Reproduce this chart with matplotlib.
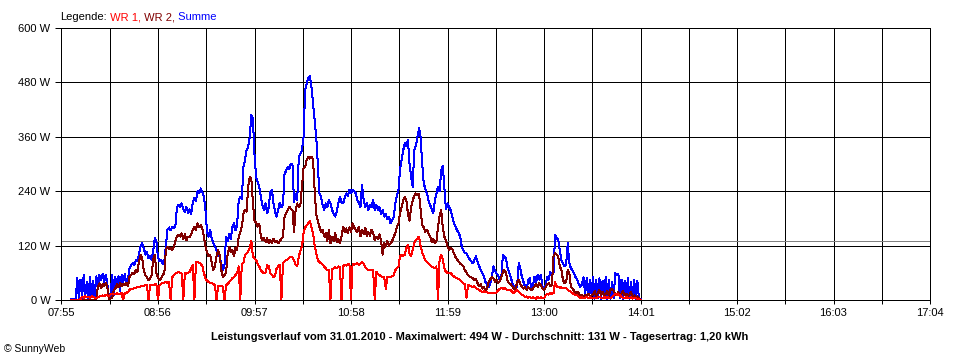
import numpy as np
import matplotlib
matplotlib.use("Agg")
import matplotlib.pyplot as plt

# ---------------- data ----------------
x_tick_labels = ['07:55', '08:56', '09:57', '10:58', '11:59',
                 '13:00', '14:01', '15:02', '16:03', '17:04']
y_ticks = [0, 120, 240, 360, 480, 600]
y_tick_labels = ['0 W', '120 W', '240 W', '360 W', '480 W', '600 W']

series_start = '08:01'   # one value per minute from here
average_w = 131

wr1 = [0, 0, 0, 0, 0, 0, 2,
       7, 5, 8, 6, 7, 5, 8, 7,
       5, 4, 6, 8,
       9, 10, 9, 11, 10, 9,
       12, 13, 14, 13, 15, 14, 13, 15, 0, 16, 15,
       18, 22, 25, 24, 27, 26, 29, 28,
       30, 32, 31, 33, 33, 0, 32, 34, 33, 35, 34, 0, 33,
       36, 37, 38, 40, 38, 39,
       0,
       50, 55, 58, 60, 62, 60, 58,
       0,
       59, 58, 60, 62,
       70, 78, 0, 83, 85, 82, 80, 75,
       60, 48, 42, 40, 38,
       37, 35, 33, 0, 32, 30, 31, 29,
       0,
       32, 35, 40, 44, 48, 51, 55, 60,
       74, 0, 80, 81,
       100, 103, 107,
       115, 130,
       96, 92, 88,
       80, 74, 66,
       62, 59, 60,
       77, 75,
       59, 55, 51, 53,
       70, 74, 78, 0, 81,
       85, 88, 90, 93, 96, 94,
       88, 78, 74,
       96, 108, 118,
       147, 160, 165, 169,
       175,
       160, 147, 120, 103,
       88, 84, 81,
       78, 74, 70, 66,
       66, 0, 68, 70, 72, 70, 74, 72,
       0,
       75, 77, 76, 78, 80, 0, 79, 78, 80, 81, 78, 80,
       83, 80,
       72, 68, 66, 67, 66, 65,
       0,
       62, 58, 55, 52, 51, 50,
       25,
       51, 50, 51, 52, 55,
       66, 70, 74,
       96, 99, 97, 100,
       115, 121,
       103, 96, 110,
       125, 132, 136, 140,
       118, 105, 96,
       88, 84, 80, 77, 74, 72,
       70, 74,
       0,
       90, 99,
       90, 70,
       62, 60, 59, 60,
       55, 52, 50, 48, 46, 44,
       40, 37, 35, 5, 33, 32, 30, 29, 30,
       26, 24, 22, 20, 18, 19, 18,
       17, 16, 15, 15, 16, 15, 17,
       22, 24, 26, 25, 26, 24, 22, 23,
       22, 18, 15, 20, 22, 18, 15,
       12, 10, 7, 8,
       5, 7, 4, 6, 5, 3, 7, 4, 6, 5, 4,
       11, 13, 12, 15, 14, 15,
       40,
       30, 29, 27, 28, 26, 27, 26,
       22, 20, 18, 15, 13, 11, 10,
       7, 5, 6, 4, 5, 7, 4, 6, 5, 4,
       5, 4, 6, 7, 5, 4, 6, 5, 7, 4, 5, 6,
       10, 13, 12, 13, 10,
       6, 5, 4, 6, 5, 4, 6, 3, 5, 4, 3, 2, 0]

wr2 = [0, 0, 0, 0, 0, 0, 0, 0, 0, 0, 0, 0, 0, 0, 0, 0, 0,
       30, 37, 26, 35, 30, 37, 28,
       2, 3,
       5, 20, 25,
       35, 28, 38, 30, 36, 32, 38,
       30,
       51, 55, 60, 58, 66, 62,
       85, 99, 92,
       66, 55, 50, 44, 48, 55,
       90, 99,
       59, 50, 44, 48, 55, 60,
       110, 118, 112, 115, 110, 118,
       130, 140, 143, 140, 147, 135, 145, 132, 140, 138,
       145, 155, 162, 154, 169, 160, 165, 158,
       140,
       118, 105, 96, 100,
       81, 66, 75,
       96, 110, 100,
       66, 51, 55, 60,
       100, 118, 105, 110, 96, 115, 110,
       140, 150, 162,
       191, 199, 195,
       250, 272, 268,
       213, 176,
       170, 162, 168,
       140, 132, 136,
       128, 136, 125, 132, 126, 135, 128, 130, 125,
       130, 135, 140,
       184, 192, 199,
       206, 200, 199,
       150, 200, 213, 205,
       210, 250, 290,
       294, 309, 316, 312, 316, 309,
       243, 190, 176,
       162, 150, 155, 140, 148,
       130, 154, 125, 140, 130, 148, 128, 135, 125, 140,
       162, 150, 158, 147, 160, 150,
       169, 160, 154,
       150, 162, 140, 155, 145, 160, 140, 150, 142, 155,
       147, 132, 140, 135, 145,
       130, 100, 125, 118, 130, 120,
       125, 130, 140, 147,
       160, 169, 191, 205, 220, 228,
       220, 190, 175,
       205, 220, 230, 235, 232,
       235,
       199, 165,
       160, 150, 155, 147,
       140, 128, 135, 125, 130,
       162, 185, 199,
       160, 140, 132,
       118, 110, 115, 112,
       103, 95, 90, 85, 80, 78, 74,
       66, 60, 55, 52, 50, 48, 44, 46,
       37, 30, 35, 25, 28, 22, 25,
       40, 45, 51, 48, 40, 45, 37, 42, 50, 62, 66, 60, 42, 37,
       35, 30, 25, 22, 40, 45, 35, 30, 25, 28,
       22, 29, 25, 22, 25,
       30, 35, 29, 37, 33, 25, 22, 28, 35, 37, 30, 33,
       96, 103, 100, 96,
       74, 66, 44, 37, 40, 66, 60, 29, 25, 20, 15, 18,
       15, 10, 12, 7, 12, 9, 14, 8, 10,
       12, 20, 8, 15, 22, 10, 18, 8, 14, 20, 9, 22, 25, 20, 15, 10,
       18, 8, 15, 20, 10, 14, 8, 12, 18, 6, 10, 4, 8, 3, 0]

summe = [2, 3, 2, 3, 48, 3, 45, 5, 55, 10,
         40, 4, 50, 8, 42, 6, 52, 30, 55, 45,
         58, 40, 56, 35, 6, 8, 55, 10, 50, 30,
         52, 20, 55, 40, 58, 35, 45, 70, 76, 82,
         78, 88, 85, 100, 120, 125, 115, 100, 105, 92,
         98, 88, 110, 136, 128, 95, 85, 88, 80, 86,
         120, 155, 160, 154, 162, 158, 165, 205, 210, 206,
         213, 200, 195, 205, 192, 200, 190, 215, 225, 218,
         240, 235, 246, 238, 228, 199, 150, 140, 154, 135,
         125, 118, 110, 103, 96, 80, 66, 75, 140, 130,
         145, 135, 160, 169, 154, 165, 220, 228, 222, 294,
         309, 330, 338, 360, 408, 400, 320, 272, 260, 250,
         228, 210, 199, 213, 191, 205, 239, 243, 213, 195,
         184, 200, 215, 205, 210, 279, 285, 294, 288, 301,
         298, 215, 235, 220, 316, 323, 330, 360, 463, 478,
         489, 494, 470, 434, 400, 360, 301, 235, 228, 210,
         199, 213, 205, 220, 213, 199, 190, 184, 195, 213,
         228, 215, 213, 225, 235, 230, 243, 235, 243, 240,
         235, 220, 215, 205, 254, 220, 205, 215, 199, 210,
         205, 220, 199, 210, 199, 205, 190, 199, 184, 190,
         178, 184, 169, 175, 184, 213, 230, 243, 287, 310,
         330, 346, 340, 353, 300, 272, 250, 331, 340, 360,
         379, 360, 300, 257, 245, 235, 220, 210, 200, 191,
         220, 235, 250, 240, 285, 296, 250, 200, 213, 205,
         198, 184, 170, 162, 154, 148, 140, 118, 110, 103,
         103, 95, 90, 85, 81, 88, 96, 85, 75, 66,
         60, 51, 40, 35, 29, 35, 50, 74, 65, 59,
         55, 44, 50, 99, 95, 92, 70, 60, 50, 37,
         30, 22, 30, 81, 70, 51, 40, 30, 22, 44,
         48, 22, 30, 51, 40, 55, 45, 55, 30, 28,
         32, 51, 45, 62, 55, 60, 143, 138, 132, 110,
         88, 80, 74, 78, 125, 81, 70, 65, 59, 50,
         44, 35, 29, 35, 50, 12, 48, 10, 45, 15,
         50, 3, 45, 5, 48, 3, 42, 5, 50, 3,
         45, 3, 40, 4, 59, 55, 58, 5, 45, 3,
         42, 4, 48, 3, 40, 5, 45, 3, 42, 4, 2]

title_text = ('Leistungsverlauf vom 31.01.2010 - Maximalwert: 494 W - '
              'Durchschnitt: 131 W - Tagesertrag: 1,20 kWh')

# ---------------- helpers ----------------
def to_min(s):
    h, m = s.split(':')
    return int(h) * 60 + int(m)

t0 = to_min(x_tick_labels[0])
major = [to_min(s) - t0 for s in x_tick_labels]
minor = [(a + b) / 2 for a, b in zip(major[:-1], major[1:])]
start = to_min(series_start) - t0

W, H = 960, 360
fig = plt.figure(figsize=(W / 100, H / 100), dpi=100)
fig.patch.set_facecolor('white')
ax = fig.add_axes([61.5 / W, 60 / H, (930 - 61.5) / W, 272 / H])

FONT = 'Liberation Sans'
px = 0.72  # one pixel in points

# grid
for x in major[1:-1] + minor:
    ax.axvline(x, color='black', lw=px, zorder=1, antialiased=False)
for y in y_ticks[1:-1]:
    ax.axhline(y, color='black', lw=px, zorder=1, antialiased=False)
ax.axhline(average_w, color='#808080', lw=px, zorder=2, antialiased=False)

def plot_series(vals, color, z):
    v = np.asarray(vals, dtype=float)
    t = start + np.arange(len(v))
    ax.plot(t, v, color=color, lw=px, zorder=z, antialiased=False)

plot_series(summe, '#0000FF', 3)
plot_series(wr2, '#800000', 4)
plot_series(wr1, '#FF0000', 5)

ax.set_xlim(major[0], major[-1])
ax.set_ylim(y_ticks[0], y_ticks[-1])
ax.set_xticks(major)
ax.set_xticklabels(x_tick_labels, fontsize=8, family=FONT)
ax.set_xticks(minor, minor=True)
ax.set_yticks(y_ticks)
ax.set_yticklabels(y_tick_labels, fontsize=8, family=FONT)
ax.tick_params(axis='x', which='both', length=4 * px, width=px, direction='out', pad=4.5 * px, colors='black')
ax.tick_params(axis='y', which='both', length=6 * px, width=px, direction='out', pad=5 * px, colors='black')
for s in ax.spines.values():
    s.set_color('black')
    s.set_linewidth(px)

# legend line
t1 = fig.text(60 / W, 1 - 17 / H, 'Legende:', fontsize=8, family=FONT, color='black', va='center', ha='left')
a1 = ax.annotate(' WR 1,', xy=(1, 0), xycoords=t1, va='bottom', ha='left', fontsize=8, family=FONT, color='#FF0000', annotation_clip=False)
a2 = ax.annotate(' WR 2,', xy=(1, 0), xycoords=a1, va='bottom', ha='left', fontsize=8, family=FONT, color='#800000', annotation_clip=False)
a3 = ax.annotate(' Summe', xy=(1, 0), xycoords=a2, va='bottom', ha='left', fontsize=8, family=FONT, color='#0000FF', annotation_clip=False)

fig.text(480 / W, 1 - 337 / H, title_text, fontsize=8, family=FONT, fontweight='bold', ha='center', va='center')
fig.text(4 / W, 1 - 349 / H, '\u00a9 SunnyWeb', fontsize=7.5, family=FONT, ha='left', va='center')

fig.savefig('out.png', dpi=100, facecolor='white')
